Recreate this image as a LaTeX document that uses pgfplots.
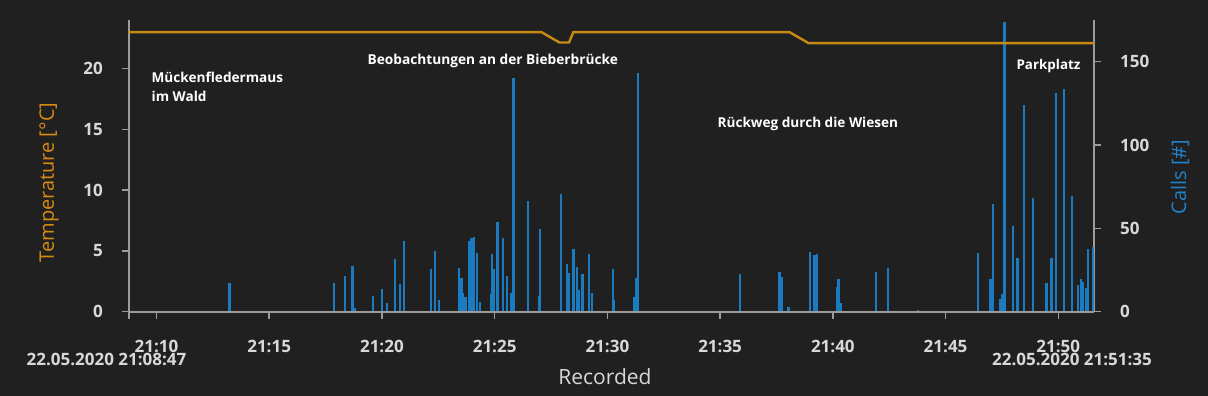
\documentclass[border=0pt]{standalone}
\usepackage{pgfplots}
\pgfplotsset{compat=1.18}
\usepackage{fontspec}
\setmainfont{Open Sans}
\definecolor{bg}{HTML}{202020}
\definecolor{axgray}{HTML}{9C9C9C}
\definecolor{tickc}{HTML}{D8D8D8}
\definecolor{tempc}{HTML}{C98A14}
\definecolor{callc}{HTML}{1B7BC0}
\definecolor{templab}{HTML}{D88B12}
\definecolor{calllab}{HTML}{2283CB}

\pgfplotstableread{
t calls
8.80 6
13.24 17
17.86 17.5
18.38 21.5
18.70 27.3
18.79 2
19.60 9.5
20.02 13.4
20.21 5.5
20.58 31.4
20.82 16.4
20.98 42.6
22.17 25.4
22.34 36.6
22.54 7
23.41 26.4
23.53 20
23.60 11
23.71 9
23.85 42.4
23.97 44.4
24.08 45
24.22 35.5
24.34 5.7
24.83 10.4
24.90 34.6
24.96 25.4
25.13 54
25.38 44.4
25.56 21.4
25.71 11
25.84 140.4
26.49 66.4
26.98 9.4
27.01 49.4
27.94 70.4
28.22 28.6
28.30 23.4
28.50 37.4
28.65 27
28.75 13
28.90 22.4
29.20 34.4
29.33 11.4
30.24 25.4
30.29 7
31.18 8.6
31.26 20
31.37 143
35.89 22.6
37.63 23.6
37.75 20.6
38.03 2.6
38.97 35.6
39.19 34
39.28 34.4
40.18 15
40.25 19.4
40.36 5.4
41.90 23.6
42.43 26.4
43.79 1
46.44 35.4
46.99 19.4
47.11 64.4
47.40 7.4
47.49 10.6
47.61 174
48.00 51.4
48.19 32.4
48.47 124
48.89 68
49.48 17.4
49.70 32.4
49.88 131.4
50.26 133.4
50.59 69.4
50.87 16
51.00 19.4
51.11 18
51.24 14.4
51.31 37.4
51.55 39
}\callsdata

\pgfplotstableread{
t temp
8.78333 23.0
27.08 23.0
27.87 22.15
28.30 22.15
28.49 23.0
38.08 23.0
38.92 22.1
51.58333 22.1
}\tempdata

\pgfplotsset{
  mybase/.style={
    at={(129pt,84.3pt)}, anchor=south west,
    scale only axis, width=965pt, height=291.7pt,
    xmin=8.78333, xmax=51.58333,
    clip=false,
    tick align=outside,
    major tick length=7pt,
    tick style={axgray, line width=1.5pt},
    axis line style={axgray, line width=1.8pt},
    /pgf/number format/assume math mode=true,
    ticklabel style={font=\fontsize{17}{17}\selectfont\bfseries, text=tickc},
  }
}

\begin{document}
\begin{tikzpicture}[x=1pt,y=1pt]
\fill[bg] (0,0) rectangle (1208,396);
\path[use as bounding box] (0,0) rectangle (1208,396);

\begin{axis}[mybase,
  ymin=0, ymax=175,
  axis x line=none, axis y line*=right,
  y axis line style={-},
  ytick={0,50,100,150},
  yticklabel style={anchor=west, inner sep=0pt, xshift=19pt},
]
\addplot[ycomb, draw=callc, line width=2.2pt, mark=none] table[x=t, y=calls] {\callsdata};
\end{axis}

\begin{axis}[mybase,
  ymin=0, ymax=24,
  axis x line*=bottom, axis y line*=left,
  x axis line style={-}, y axis line style={-},
  ytick={0,5,10,15,20},
  xtick={10,15,20,25,30,35,40,45,50},
  xticklabels={21:10,21:15,21:20,21:25,21:30,21:35,21:40,21:45,21:50},
  extra x ticks={8.78333},
  extra x tick labels={},
  yticklabel style={anchor=east, inner sep=0pt, xshift=-19pt},
  xticklabel style={anchor=north, inner sep=0pt},
  xticklabel shift=21pt,
]
\addplot[draw=tempc, line width=2.4pt, mark=none] table[x=t, y=temp] {\tempdata};
\node[anchor=west, align=left, text=white, font=\fontsize{13.6}{19}\selectfont\bfseries, inner sep=0pt] at (axis cs:9.78,18.53) {Mückenfledermaus\\im Wald};
\node[anchor=west, text=white, font=\fontsize{13.7}{19}\selectfont\bfseries, inner sep=0pt] at (axis cs:19.36,20.63) {Beobachtungen an der Bieberbrücke};
\node[anchor=west, text=white, font=\fontsize{13.6}{19}\selectfont\bfseries, inner sep=0pt] at (axis cs:34.88,15.42) {Rückweg durch die Wiesen};
\node[anchor=west, text=white, font=\fontsize{13.4}{19}\selectfont\bfseries, inner sep=0pt] at (axis cs:48.14,20.22) {Parkplatz};
\node[text=tickc, font=\fontsize{17}{17}\selectfont\bfseries, inner sep=0pt] at ([xshift=-22.5pt, yshift=-47.5pt]rel axis cs:0,0) {22.05.2020 21:08:47};
\node[text=tickc, font=\fontsize{17}{17}\selectfont\bfseries, inner sep=0pt] at ([xshift=-22pt, yshift=-47.5pt]rel axis cs:1,0) {22.05.2020 21:51:35};
\end{axis}

\node[text=tickc, font=\fontsize{21}{21}\selectfont] at (605,19) {Recorded};
\node[text=templab, font=\fontsize{20}{20}\selectfont, rotate=90] at (49,213.5) {Temperature [°C]};
\node[text=calllab, font=\fontsize{20}{20}\selectfont, rotate=90] at (1180,219) {Calls [\#]};
\end{tikzpicture}
\end{document}
